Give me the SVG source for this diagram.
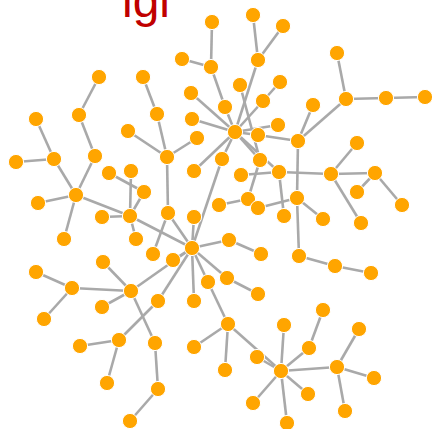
<svg xmlns="http://www.w3.org/2000/svg" width="432" height="429" viewBox="0 0 432 429">
  <style>
    .edge { stroke: #a9a9a9; stroke-width: 2.6; fill: none; stroke-linecap: butt; }
    .node circle { fill: #FFA500; stroke: #ffffff; stroke-width: 1; }
    .title { font-family: "Liberation Sans", Arial, sans-serif; font-size: 48px; fill: #c00000; }
  </style>
  <rect width="432" height="429" fill="#ffffff"/>
  <text class="title" x="122" y="17">lgl</text>

  <!-- tree edges -->
  <g id="edges" class="edge">
    <line x1="212" y1="22" x2="211" y2="67"/>
    <line x1="182" y1="59" x2="211" y2="67"/>
    <line x1="211" y1="67" x2="225" y2="107"/>
    <line x1="225" y1="107" x2="235" y2="132"/>
    <line x1="99" y1="77" x2="79" y2="115"/>
    <line x1="79" y1="115" x2="95" y2="156"/>
    <line x1="95" y1="156" x2="76" y2="195"/>
    <line x1="36" y1="119" x2="54" y2="159"/>
    <line x1="16" y1="162" x2="54" y2="159"/>
    <line x1="54" y1="159" x2="76" y2="195"/>
    <line x1="76" y1="195" x2="38" y2="203"/>
    <line x1="76" y1="195" x2="64" y2="239"/>
    <line x1="76" y1="195" x2="130" y2="216"/>
    <line x1="143" y1="77" x2="157" y2="114"/>
    <line x1="157" y1="114" x2="167" y2="157"/>
    <line x1="128" y1="131" x2="167" y2="157"/>
    <line x1="197" y1="138" x2="167" y2="157"/>
    <line x1="167" y1="157" x2="168" y2="213"/>
    <line x1="109" y1="173" x2="144" y2="192"/>
    <line x1="131" y1="171" x2="130" y2="216"/>
    <line x1="144" y1="192" x2="130" y2="216"/>
    <line x1="102" y1="217" x2="130" y2="216"/>
    <line x1="130" y1="216" x2="136" y2="239"/>
    <line x1="130" y1="216" x2="192" y2="248"/>
    <line x1="168" y1="213" x2="153" y2="254"/>
    <line x1="168" y1="213" x2="192" y2="248"/>
    <line x1="194" y1="217" x2="192" y2="248"/>
    <line x1="222" y1="159" x2="192" y2="248"/>
    <line x1="222" y1="159" x2="235" y2="132"/>
    <line x1="191" y1="93" x2="235" y2="132"/>
    <line x1="192" y1="119" x2="235" y2="132"/>
    <line x1="194" y1="171" x2="235" y2="132"/>
    <line x1="253" y1="15" x2="258" y2="60"/>
    <line x1="283" y1="26" x2="258" y2="60"/>
    <line x1="258" y1="60" x2="235" y2="132"/>
    <line x1="280" y1="82" x2="263" y2="101"/>
    <line x1="263" y1="101" x2="235" y2="132"/>
    <line x1="278" y1="125" x2="235" y2="132"/>
    <line x1="258" y1="135" x2="235" y2="132"/>
    <line x1="240" y1="85" x2="260" y2="160"/>
    <line x1="260" y1="160" x2="235" y2="132"/>
    <line x1="279" y1="172" x2="235" y2="132"/>
    <line x1="258" y1="135" x2="298" y2="141"/>
    <line x1="337" y1="53" x2="346" y2="99"/>
    <line x1="346" y1="99" x2="386" y2="98"/>
    <line x1="386" y1="98" x2="425" y2="97"/>
    <line x1="346" y1="99" x2="298" y2="141"/>
    <line x1="313" y1="105" x2="298" y2="141"/>
    <line x1="298" y1="141" x2="297" y2="198"/>
    <line x1="297" y1="198" x2="299" y2="256"/>
    <line x1="297" y1="198" x2="323" y2="219"/>
    <line x1="258" y1="208" x2="297" y2="198"/>
    <line x1="260" y1="160" x2="248" y2="199"/>
    <line x1="219" y1="205" x2="248" y2="199"/>
    <line x1="241" y1="175" x2="279" y2="172"/>
    <line x1="279" y1="172" x2="331" y2="174"/>
    <line x1="279" y1="172" x2="284" y2="216"/>
    <line x1="331" y1="174" x2="357" y2="143"/>
    <line x1="331" y1="174" x2="375" y2="173"/>
    <line x1="331" y1="174" x2="361" y2="223"/>
    <line x1="375" y1="173" x2="357" y2="192"/>
    <line x1="375" y1="173" x2="402" y2="205"/>
    <line x1="299" y1="256" x2="335" y2="266"/>
    <line x1="335" y1="266" x2="371" y2="273"/>
    <line x1="192" y1="248" x2="229" y2="240"/>
    <line x1="229" y1="240" x2="261" y2="254"/>
    <line x1="192" y1="248" x2="227" y2="278"/>
    <line x1="227" y1="278" x2="258" y2="294"/>
    <line x1="192" y1="248" x2="208" y2="282"/>
    <line x1="208" y1="282" x2="228" y2="324"/>
    <line x1="192" y1="248" x2="194" y2="301"/>
    <line x1="192" y1="248" x2="158" y2="301"/>
    <line x1="192" y1="248" x2="131" y2="291"/>
    <line x1="192" y1="248" x2="173" y2="260"/>
    <line x1="103" y1="262" x2="131" y2="291"/>
    <line x1="36" y1="272" x2="72" y2="288"/>
    <line x1="72" y1="288" x2="131" y2="291"/>
    <line x1="72" y1="288" x2="44" y2="319"/>
    <line x1="102" y1="307" x2="131" y2="291"/>
    <line x1="131" y1="291" x2="155" y2="343"/>
    <line x1="158" y1="301" x2="119" y2="340"/>
    <line x1="119" y1="340" x2="80" y2="346"/>
    <line x1="119" y1="340" x2="107" y2="383"/>
    <line x1="155" y1="343" x2="158" y2="389"/>
    <line x1="158" y1="389" x2="130" y2="421"/>
    <line x1="228" y1="324" x2="194" y2="347"/>
    <line x1="228" y1="324" x2="225" y2="370"/>
    <line x1="228" y1="324" x2="281" y2="371"/>
    <line x1="257" y1="357" x2="281" y2="371"/>
    <line x1="281" y1="371" x2="284" y2="325"/>
    <line x1="281" y1="371" x2="309" y2="348"/>
    <line x1="309" y1="348" x2="323" y2="310"/>
    <line x1="281" y1="371" x2="337" y2="367"/>
    <line x1="337" y1="367" x2="359" y2="329"/>
    <line x1="337" y1="367" x2="374" y2="378"/>
    <line x1="337" y1="367" x2="345" y2="411"/>
    <line x1="281" y1="371" x2="308" y2="394"/>
    <line x1="281" y1="371" x2="253" y2="403"/>
    <line x1="281" y1="371" x2="287" y2="423"/>
  </g>

  <!-- vertices -->
  <g class="node" id="v1"><circle cx="212" cy="22" r="7.6"/></g>
  <g class="node" id="v2"><circle cx="182" cy="59" r="7.6"/></g>
  <g class="node" id="v3"><circle cx="211" cy="67" r="7.6"/></g>
  <g class="node" id="v4"><circle cx="99" cy="77" r="7.6"/></g>
  <g class="node" id="v5"><circle cx="143" cy="77" r="7.6"/></g>
  <g class="node" id="v6"><circle cx="191" cy="93" r="7.6"/></g>
  <g class="node" id="v7"><circle cx="79" cy="115" r="7.6"/></g>
  <g class="node" id="v8"><circle cx="157" cy="114" r="7.6"/></g>
  <g class="node" id="v9"><circle cx="36" cy="119" r="7.6"/></g>
  <g class="node" id="v10"><circle cx="192" cy="119" r="7.6"/></g>
  <g class="node" id="v11"><circle cx="128" cy="131" r="7.6"/></g>
  <g class="node" id="v12"><circle cx="197" cy="138" r="7.6"/></g>
  <g class="node" id="v13"><circle cx="54" cy="159" r="7.6"/></g>
  <g class="node" id="v14"><circle cx="95" cy="156" r="7.6"/></g>
  <g class="node" id="v15"><circle cx="167" cy="157" r="7.6"/></g>
  <g class="node" id="v16"><circle cx="16" cy="162" r="7.6"/></g>
  <g class="node" id="v17"><circle cx="109" cy="173" r="7.6"/></g>
  <g class="node" id="v18"><circle cx="131" cy="171" r="7.6"/></g>
  <g class="node" id="v19"><circle cx="194" cy="171" r="7.6"/></g>
  <g class="node" id="v20"><circle cx="144" cy="192" r="7.6"/></g>
  <g class="node" id="v21"><circle cx="76" cy="195" r="7.6"/></g>
  <g class="node" id="v22"><circle cx="38" cy="203" r="7.6"/></g>
  <g class="node" id="v23"><circle cx="168" cy="213" r="7.6"/></g>
  <g class="node" id="v24"><circle cx="130" cy="216" r="7.6"/></g>
  <g class="node" id="v25"><circle cx="102" cy="217" r="7.6"/></g>
  <g class="node" id="v26"><circle cx="194" cy="217" r="7.6"/></g>
  <g class="node" id="v27"><circle cx="253" cy="15" r="7.6"/></g>
  <g class="node" id="v28"><circle cx="283" cy="26" r="7.6"/></g>
  <g class="node" id="v29"><circle cx="258" cy="60" r="7.6"/></g>
  <g class="node" id="v30"><circle cx="337" cy="53" r="7.6"/></g>
  <g class="node" id="v31"><circle cx="280" cy="82" r="7.6"/></g>
  <g class="node" id="v32"><circle cx="240" cy="85" r="7.6"/></g>
  <g class="node" id="v33"><circle cx="263" cy="101" r="7.6"/></g>
  <g class="node" id="v34"><circle cx="225" cy="107" r="7.6"/></g>
  <g class="node" id="v35"><circle cx="313" cy="105" r="7.6"/></g>
  <g class="node" id="v36"><circle cx="346" cy="99" r="7.6"/></g>
  <g class="node" id="v37"><circle cx="386" cy="98" r="7.6"/></g>
  <g class="node" id="v38"><circle cx="425" cy="97" r="7.6"/></g>
  <g class="node" id="hub"><circle cx="235" cy="132" r="7.6"/></g>
  <g class="node" id="v39"><circle cx="258" cy="135" r="7.6"/></g>
  <g class="node" id="v40"><circle cx="278" cy="125" r="7.6"/></g>
  <g class="node" id="v41"><circle cx="298" cy="141" r="7.6"/></g>
  <g class="node" id="v42"><circle cx="357" cy="143" r="7.6"/></g>
  <g class="node" id="v43"><circle cx="222" cy="159" r="7.6"/></g>
  <g class="node" id="v44"><circle cx="260" cy="160" r="7.6"/></g>
  <g class="node" id="v45"><circle cx="241" cy="175" r="7.6"/></g>
  <g class="node" id="v46"><circle cx="279" cy="172" r="7.6"/></g>
  <g class="node" id="v47"><circle cx="331" cy="174" r="7.6"/></g>
  <g class="node" id="v48"><circle cx="375" cy="173" r="7.6"/></g>
  <g class="node" id="v49"><circle cx="357" cy="192" r="7.6"/></g>
  <g class="node" id="v50"><circle cx="402" cy="205" r="7.6"/></g>
  <g class="node" id="v51"><circle cx="219" cy="205" r="7.6"/></g>
  <g class="node" id="v52"><circle cx="248" cy="199" r="7.6"/></g>
  <g class="node" id="v53"><circle cx="258" cy="208" r="7.6"/></g>
  <g class="node" id="v54"><circle cx="297" cy="198" r="7.6"/></g>
  <g class="node" id="v55"><circle cx="284" cy="216" r="7.6"/></g>
  <g class="node" id="v56"><circle cx="323" cy="219" r="7.6"/></g>
  <g class="node" id="v57"><circle cx="361" cy="223" r="7.6"/></g>
  <g class="node" id="v58"><circle cx="64" cy="239" r="7.6"/></g>
  <g class="node" id="v59"><circle cx="136" cy="239" r="7.6"/></g>
  <g class="node" id="hub2"><circle cx="192" cy="248" r="7.6"/></g>
  <g class="node" id="v60"><circle cx="153" cy="254" r="7.6"/></g>
  <g class="node" id="v61"><circle cx="173" cy="260" r="7.6"/></g>
  <g class="node" id="v62"><circle cx="36" cy="272" r="7.6"/></g>
  <g class="node" id="v63"><circle cx="103" cy="262" r="7.6"/></g>
  <g class="node" id="v64"><circle cx="72" cy="288" r="7.6"/></g>
  <g class="node" id="v65"><circle cx="131" cy="291" r="7.6"/></g>
  <g class="node" id="v66"><circle cx="208" cy="282" r="7.6"/></g>
  <g class="node" id="v67"><circle cx="158" cy="301" r="7.6"/></g>
  <g class="node" id="v68"><circle cx="194" cy="301" r="7.6"/></g>
  <g class="node" id="v69"><circle cx="102" cy="307" r="7.6"/></g>
  <g class="node" id="v70"><circle cx="44" cy="319" r="7.6"/></g>
  <g class="node" id="v71"><circle cx="119" cy="340" r="7.6"/></g>
  <g class="node" id="v72"><circle cx="80" cy="346" r="7.6"/></g>
  <g class="node" id="v73"><circle cx="155" cy="343" r="7.6"/></g>
  <g class="node" id="v74"><circle cx="194" cy="347" r="7.6"/></g>
  <g class="node" id="v75"><circle cx="107" cy="383" r="7.6"/></g>
  <g class="node" id="v76"><circle cx="158" cy="389" r="7.6"/></g>
  <g class="node" id="v77"><circle cx="130" cy="421" r="7.6"/></g>
  <g class="node" id="v78"><circle cx="229" cy="240" r="7.6"/></g>
  <g class="node" id="v79"><circle cx="261" cy="254" r="7.6"/></g>
  <g class="node" id="v80"><circle cx="299" cy="256" r="7.6"/></g>
  <g class="node" id="v81"><circle cx="335" cy="266" r="7.6"/></g>
  <g class="node" id="v82"><circle cx="371" cy="273" r="7.6"/></g>
  <g class="node" id="v83"><circle cx="227" cy="278" r="7.6"/></g>
  <g class="node" id="v84"><circle cx="258" cy="294" r="7.6"/></g>
  <g class="node" id="v85"><circle cx="323" cy="310" r="7.6"/></g>
  <g class="node" id="v86"><circle cx="228" cy="324" r="7.6"/></g>
  <g class="node" id="v87"><circle cx="284" cy="325" r="7.6"/></g>
  <g class="node" id="v88"><circle cx="359" cy="329" r="7.6"/></g>
  <g class="node" id="v89"><circle cx="309" cy="348" r="7.6"/></g>
  <g class="node" id="v90"><circle cx="257" cy="357" r="7.6"/></g>
  <g class="node" id="v91"><circle cx="225" cy="370" r="7.6"/></g>
  <g class="node" id="v92"><circle cx="281" cy="371" r="7.6"/></g>
  <g class="node" id="v93"><circle cx="337" cy="367" r="7.6"/></g>
  <g class="node" id="v94"><circle cx="374" cy="378" r="7.6"/></g>
  <g class="node" id="v95"><circle cx="308" cy="394" r="7.6"/></g>
  <g class="node" id="v96"><circle cx="253" cy="403" r="7.6"/></g>
  <g class="node" id="v97"><circle cx="345" cy="411" r="7.6"/></g>
  <g class="node" id="v98"><circle cx="287" cy="423" r="7.6"/></g>
</svg>
